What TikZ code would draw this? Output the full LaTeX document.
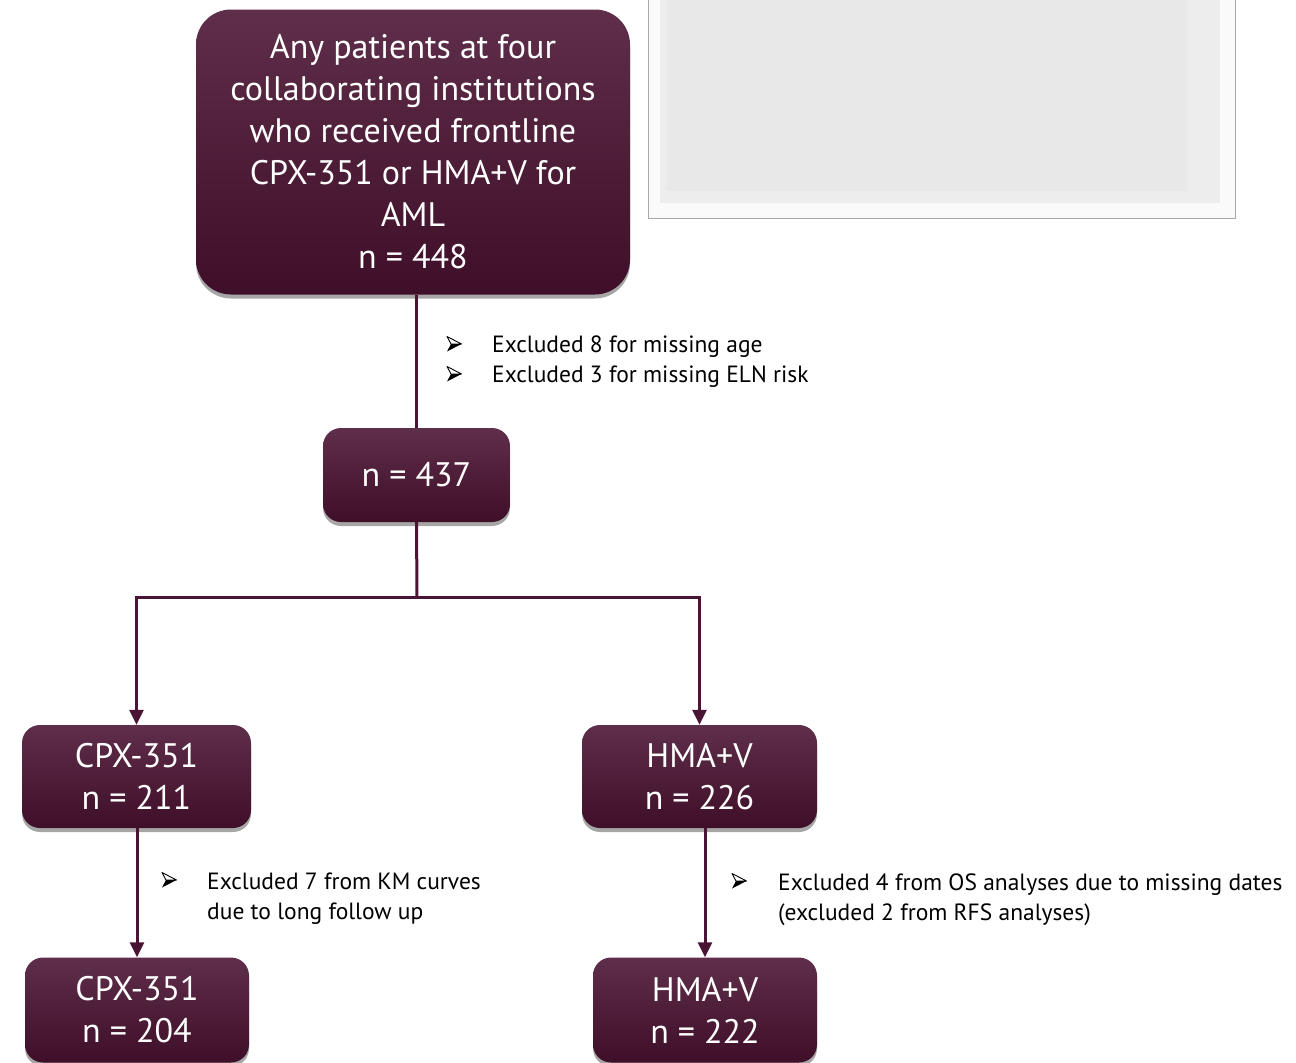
\documentclass[tikz,border=0pt]{standalone}
\usepackage{fontspec}
\setmainfont{PT Sans}
\usetikzlibrary{arrows.meta,shadows}
\definecolor{boxtop}{HTML}{5E2E4A}
\definecolor{boxbot}{HTML}{3F0F29}
\definecolor{linec}{HTML}{4A1534}
\definecolor{grayA}{HTML}{EDEDED}
\definecolor{grayB}{HTML}{E8E8E8}
\definecolor{grayL}{HTML}{A8A8A8}
\begin{document}
\begin{tikzpicture}[x=1pt,y=-1pt,
  flowbox/.style={draw=none, rounded corners=#1, top color=boxtop, bottom color=boxbot,
    text=white, align=center, inner sep=0pt,
    drop shadow={shadow xshift=0pt, shadow yshift=-4pt, opacity=0.35, fill=black},
    font=\fontsize{34}{42}\selectfont},
  flowbox/.default=20pt,
  conn/.style={draw=linec, line width=3pt},
  arr/.style={conn, -{Triangle[length=15pt,width=14pt]}},
  note/.style={anchor=north west, inner sep=0pt, align=left, text=black,
    font=\fontsize{23.5}{30}\selectfont},
  bulletpic/.pic={
    \draw[black, line width=0.9pt, line join=round] (7.5,0) -- (-7,-7.5) -- (-3,0) -- cycle;
    \fill[black] (7.5,0) -- (-3,0) -- (-7,7.5) -- cycle;
  }
]
\useasboundingbox (0,0) rectangle (1296,1063);
% grey placeholder panel
\fill[white!98!black] (648,0) rectangle (1235,218);
\fill[grayA] (660,0) rectangle (1220,203);
\fill[grayB] (667,0) rectangle (1187,191);
\draw[grayL, line width=1pt] (648,0) -- (648,218) -- (1235,218) -- (1235,0);

% boxes
\node[flowbox=35pt, minimum width=434pt, minimum height=285pt] (top) at (413,152)
  {Any patients at four\\collaborating institutions\\who received frontline\\CPX-351 or HMA+V for\\AML\\n = 448};
\node[flowbox=18pt, minimum width=187pt, minimum height=94pt] (n437) at (416.5,475) {n = 437};
\node[flowbox=18pt, minimum width=229pt, minimum height=103pt] (cpxa) at (136.5,776.5) {CPX-351\\n = 211};
\node[flowbox=18pt, minimum width=235pt, minimum height=103pt] (hmaa) at (699.5,776.5) {HMA+V\\n = 226};
\node[flowbox=18pt, minimum width=224pt, minimum height=105pt] (cpxb) at (137,1010) {CPX-351\\n = 204};
\node[flowbox=18pt, minimum width=224pt, minimum height=105pt] (hmab) at (705,1010) {HMA+V\\n = 222};

% connectors
\coordinate (j) at (417,597);
\draw[conn] (n437.north |- top.south) -- (n437.north);
\draw[conn] (n437.south) -- (j);
\draw[arr] (j) -| (cpxa.north);
\draw[arr] (j) -| (hmaa.north);
\draw[arr] (cpxa.south -| cpxb.north) -- (cpxb.north);
\draw[arr] (hmaa.south -| hmab.north) -- (hmab.north);

% notes
\pic at (454,344) {bulletpic};
\pic at (454,374) {bulletpic};
\node[note] (t1) at (492,336) {Excluded 8 for missing age\\Excluded 3 for missing ELN risk};
\pic at (169,880) {bulletpic};
\node[note] (t2) at (207,873) {Excluded 7 from KM curves\\due to long follow up};
\pic at (739,881) {bulletpic};
\node[note] (t3) at (778,874) {Excluded 4 from OS analyses due to missing dates\\(excluded 2 from RFS analyses)};
\end{tikzpicture}
\end{document}
